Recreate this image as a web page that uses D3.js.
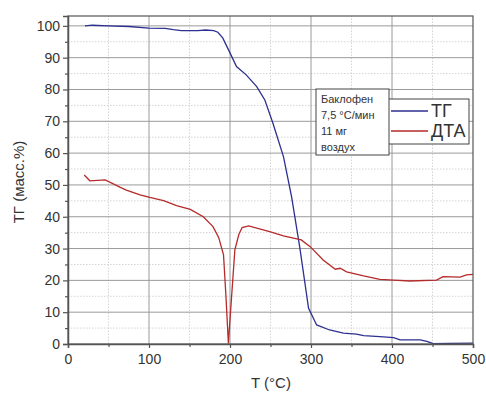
<!DOCTYPE html>
<html lang="ru">
<head>
    <meta charset="UTF-8">
    <script src="https://d3js.org/d3.v7.min.js"></script>
    <title>ТГ / ДТА</title>
    <style>
        body { margin: 0; background: #fff; }
        text { font-family: Arial, 'Liberation Sans', sans-serif; fill: #333; }
        .tick text { font-size: 14px; }
    </style>
</head>
<body>
<svg height="396" width="486"></svg>
<script>
    const width = 486, height = 396;
    const margin = {left: 68, right: 13, top: 16, bottom: 52};

    // ТГ curve, [T °C, масс.%]
    const tgT = [21, 30, 50, 75, 100, 120, 130, 140, 160, 170, 180, 185, 191, 200, 208, 220, 233, 243, 253, 266, 276, 286, 297, 307, 323, 340, 356, 365, 385, 402, 410, 435, 443, 451, 470, 500];
    const tgV = [100, 100.2, 100, 99.8, 99.3, 99.2, 98.8, 98.5, 98.5, 98.7, 98.5, 98, 96.2, 91.5, 87.2, 84.6, 80.9, 76.7, 69.4, 58.9, 46.3, 30.6, 11.2, 6, 4.4, 3.4, 3.1, 2.6, 2.3, 2.0, 1.3, 1.3, 0.8, 0.1, 0.2, 0.3];

    // ДТА curve
    const dtaT = [20, 27, 46, 64, 72, 89, 101, 118, 134, 151, 167, 179, 186, 192, 195, 198, 202, 206, 211, 215, 223, 249, 266, 288, 299, 315, 330, 336, 344, 365, 385, 402, 422, 455, 463, 484, 492, 500];
    const dtaV = [53.1, 51.3, 51.6, 49.3, 48.4, 46.9, 46.1, 45.1, 43.5, 42.3, 40, 36.9, 33.5, 28, 15, 0.2, 15, 29.6, 34.5, 36.6, 37.1, 35.3, 34, 32.7, 30.6, 26.4, 23.5, 23.8, 22.7, 21.4, 20.3, 20.1, 19.8, 20.1, 21.2, 21, 21.7, 21.9];

    const xTicks = [0, 100, 200, 300, 400, 500];
    const yTicks = [0, 10, 20, 30, 40, 50, 60, 70, 80, 90, 100];
    const legendNote = ["Баклофен", "7,5 °C/мин", "11 мг", "воздух"];
    const seriesNames = ["ТГ", "ДТА"];
    const seriesColors = ["#2c3090", "#b52a2a"];

    const svg = d3.select("svg");
    const x = d3.scaleLinear().domain([0, 500]).range([margin.left, width - margin.right]);
    const y = d3.scaleLinear().domain([0, 103.1]).range([height - margin.bottom, margin.top]);

    // minor grid
    const grid = svg.append("g");
    grid.selectAll("line.mx").data(d3.range(50, 500, 100)).enter().append("line")
        .attr("x1", x).attr("x2", x).attr("y1", y(0)).attr("y2", y(103.1))
        .attr("stroke", "#d4d4d4").attr("stroke-dasharray", "1.5,1.5");
    grid.selectAll("line.my").data(d3.range(5, 105, 10)).enter().append("line")
        .attr("y1", y).attr("y2", y).attr("x1", x(0)).attr("x2", x(500))
        .attr("stroke", "#d4d4d4").attr("stroke-dasharray", "1.5,1.5");
    // major grid
    grid.selectAll("line.Mx").data(xTicks.slice(1, -1)).enter().append("line")
        .attr("x1", x).attr("x2", x).attr("y1", y(0)).attr("y2", y(103.1))
        .attr("stroke", "#9a9a9a");
    grid.selectAll("line.My").data(yTicks.slice(1)).enter().append("line")
        .attr("y1", y).attr("y2", y).attr("x1", x(0)).attr("x2", x(500))
        .attr("stroke", "#9a9a9a");

    // series
    const line = d3.line().x(d => x(d[0])).y(d => y(d[1]));
    const series = [d3.zip(tgT, tgV), d3.zip(dtaT, dtaV)];
    svg.selectAll("path.s").data(series).enter().append("path")
        .attr("fill", "none").attr("stroke-width", 1.3)
        .attr("stroke", (d, i) => seriesColors[i])
        .attr("d", line);

    // frame
    svg.append("rect").attr("x", x(0)).attr("y", y(103.1))
        .attr("width", x(500) - x(0)).attr("height", y(0) - y(103.1))
        .attr("fill", "none").attr("stroke", "#555").attr("stroke-width", 1.2);

    // axes
    svg.append("g").attr("transform", `translate(0,${y(0)})`)
        .call(d3.axisBottom(x).tickValues(xTicks).tickSize(4).tickPadding(6));
    svg.append("g").attr("transform", `translate(0,${y(0)})`)
        .call(d3.axisBottom(x).tickValues(d3.range(50, 500, 100)).tickSize(3).tickFormat(""))
        .select(".domain").remove();
    svg.append("g").attr("transform", `translate(${x(0)},0)`)
        .call(d3.axisLeft(y).tickValues(yTicks).tickSize(5).tickPadding(3));
    svg.append("g").attr("transform", `translate(${x(0)},0)`)
        .call(d3.axisLeft(y).tickValues(d3.range(5, 105, 10)).tickSize(3).tickFormat(""))
        .select(".domain").remove();
    svg.selectAll(".domain").attr("stroke", "#555").attr("stroke-width", 1.5);
    svg.selectAll(".tick line").attr("stroke", "#555").attr("stroke-width", 1.2);
    svg.selectAll(".tick text").attr("fill", "#333").style("font-family", "Arial, 'Liberation Sans', sans-serif");

    // axis labels
    svg.append("text").attr("x", 271).attr("y", 388).attr("text-anchor", "middle")
        .style("font-size", "15px").text("T (°C)");
    svg.append("text").attr("transform", "translate(24,182) rotate(-90)").attr("text-anchor", "middle")
        .style("font-size", "15px").text("ТГ (масс.%)");

    // legend
    const lg = svg.append("g");
    lg.append("rect").attr("x", 388).attr("y", 99).attr("width", 81).attr("height", 45)
        .attr("fill", "#fff").attr("stroke", "#444");
    lg.append("rect").attr("x", 316).attr("y", 89).attr("width", 73).attr("height", 66)
        .attr("fill", "#fff").attr("stroke", "#444");
    lg.selectAll("text.note").data(legendNote).enter().append("text")
        .attr("x", 321).attr("y", (d, i) => 103 + i * 16)
        .style("font-size", "11px").text(d => d);
    seriesNames.forEach((n, i) => {
        lg.append("line").attr("x1", 391).attr("x2", 428)
            .attr("y1", 111 + i * 20).attr("y2", 111 + i * 20)
            .attr("stroke", seriesColors[i]).attr("stroke-width", 1.3);
        lg.append("text").attr("x", 431).attr("y", 117 + i * 20)
            .style("font-size", "18px").text(n);
    });
</script>
</body>
</html>
